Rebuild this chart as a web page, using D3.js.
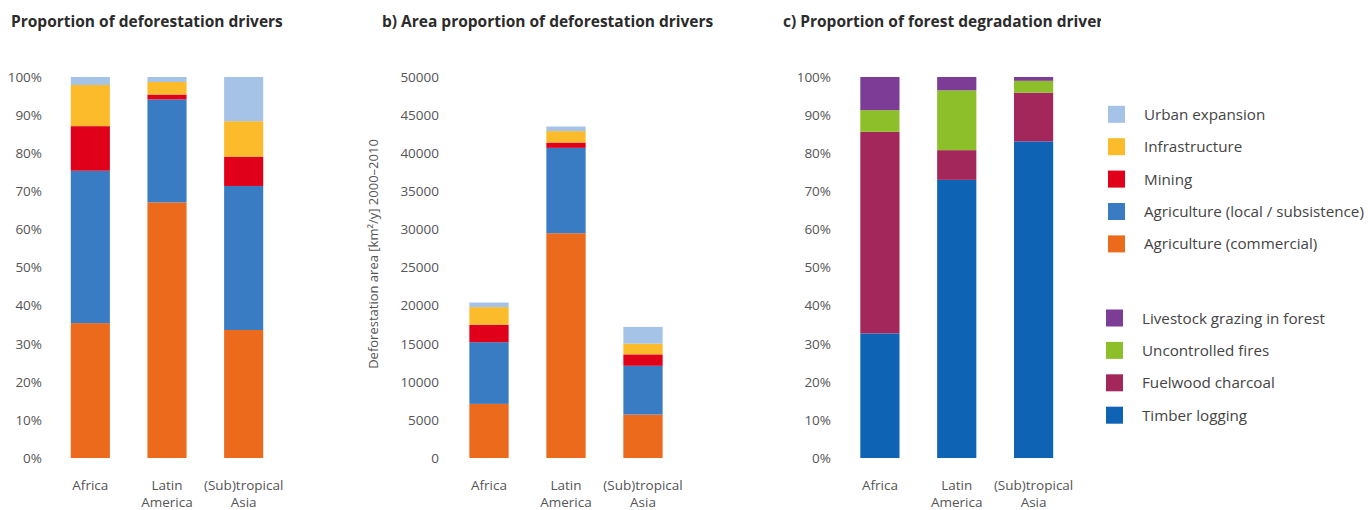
<!DOCTYPE html>
<html>
<head>
<meta charset="utf-8">
<script src="https://cdn.jsdelivr.net/npm/d3@7"></script>
<style>
  body { margin: 0; background: #fff; }
  svg { display: block; font-family: "Open Sans", sans-serif; }
</style>
</head>
<body>
<svg id="chart" width="1368" height="510"></svg>
<script>
// data
const regions = ["Africa", "Latin America", "(Sub)tropical Asia"]

const deforDrivers = ["Agriculture (commercial)", "Agriculture (local / subsistence)", "Mining", "Infrastructure", "Urban expansion"]
const deforColors = ["#ec6a1c", "#3a7cc4", "#e1001a", "#fbbb2b", "#a4c3e6"]

// a) proportion, % per region (commercial, local, mining, infra, urban)
const deforShareAfrica = [35.4, 40.0, 11.7, 10.8, 2.1]
const deforShareLatAm = [67.1, 27.0, 1.3, 3.3, 1.3]
const deforShareAsia = [33.6, 37.8, 7.7, 9.3, 11.6]

// b) area, km2/y
const deforAreaAfrica = [7100, 8100, 2300, 2300, 600]
const deforAreaLatAm = [29500, 11200, 700, 1500, 600]
const deforAreaAsia = [5700, 6400, 1500, 1400, 2200]

const degrDrivers = ["Timber logging", "Fuelwood charcoal", "Uncontrolled fires", "Livestock grazing in forest"]
const degrColors = ["#0f63b5", "#a4275c", "#8dbf2b", "#7d3d96"]

// c) proportion, % (timber, fuelwood, fires, livestock)
const degrShareAfrica = [32.7, 52.9, 5.7, 8.7]
const degrShareLatAm = [73.0, 7.8, 15.7, 3.5]
const degrShareAsia = [83.1, 12.8, 3.1, 1.0]

const pctTicks = [0, 10, 20, 30, 40, 50, 60, 70, 80, 90, 100]
const areaTicks = [0, 5000, 10000, 15000, 20000, 25000, 30000, 35000, 40000, 45000, 50000]

const svg = d3.select("#chart")

// clip for the cut-off title of panel c
svg.append("defs").append("clipPath").attr("id", "clipC")
  .append("rect").attr("x", 0).attr("y", 0).attr("width", 1101).attr("height", 60)

function toRows(keys, arrays) {
  return arrays.map((vals, i) => {
    const row = { region: regions[i] }
    keys.forEach((k, j) => row[k] = vals[j])
    return row
  })
}

function drawPanel(opt) {
  const y = d3.scaleLinear().domain(opt.domain).range([458, 77])
  const x = d3.scaleBand().domain(regions).range(opt.xRange)
    .paddingInner(0.49).paddingOuter(0.245)

  const color = d3.scaleOrdinal().domain(opt.keys).range(opt.colors)
  const series = d3.stack().keys(opt.keys)(opt.rows)

  const g = svg.append("g")

  g.selectAll("g.layer")
    .data(series)
    .join("g")
    .attr("class", "layer")
    .attr("fill", d => color(d.key))
    .selectAll("rect")
    .data(d => d)
    .join("rect")
    .attr("x", d => x(d.data.region))
    .attr("width", x.bandwidth())
    .attr("y", d => y(d[1]))
    .attr("height", d => y(d[0]) - y(d[1]))

  // y axis, labels only
  const ax = g.append("g")
    .attr("transform", `translate(${opt.axisX},0)`)
    .call(d3.axisLeft(y).tickValues(opt.ticks).tickSize(0).tickPadding(0).tickFormat(opt.fmt))
  ax.select(".domain").remove()
  ax.selectAll("text")
    .attr("fill", "#555")
    .style("font-size", "13.5px")
    .style("font-family", "'Open Sans', sans-serif")

  // category labels, two lines
  regions.forEach(r => {
    const words = r === "Africa" ? ["Africa"] : r === "Latin America" ? ["Latin", "America"] : ["(Sub)tropical", "Asia"]
    const t = g.append("text")
      .attr("x", x(r) + x.bandwidth() / 2)
      .attr("y", 490)
      .attr("text-anchor", "middle")
      .attr("fill", "#555")
      .style("font-size", "13.5px")
    words.forEach((w, i) => {
      t.append("tspan").attr("x", x(r) + x.bandwidth() / 2).attr("dy", i === 0 ? 0 : 17).text(w)
    })
  })

  // title
  svg.append("text")
    .attr("x", opt.titleX)
    .attr("y", 27)
    .attr("fill", "#2b2b2b")
    .attr("clip-path", opt.clip || null)
    .style("font-size", "15.5px")
    .style("font-weight", "bold")
    .text(opt.title)
}

drawPanel({
  title: "Proportion of deforestation drivers",
  titleX: 11,
  keys: deforDrivers,
  colors: deforColors,
  rows: toRows(deforDrivers, [deforShareAfrica, deforShareLatAm, deforShareAsia]),
  domain: [0, 100],
  ticks: pctTicks,
  fmt: d => d + "%",
  xRange: [52, 282],
  axisX: 42
})

drawPanel({
  title: "b) Area proportion of deforestation drivers",
  titleX: 382,
  keys: deforDrivers,
  colors: deforColors,
  rows: toRows(deforDrivers, [deforAreaAfrica, deforAreaLatAm, deforAreaAsia]),
  domain: [0, 50000],
  ticks: areaTicks,
  fmt: d => d,
  xRange: [450.5, 681.5],
  axisX: 439
})

drawPanel({
  title: "c) Proportion of forest degradation drivers",
  titleX: 783,
  clip: "url(#clipC)",
  keys: degrDrivers,
  colors: degrColors,
  rows: toRows(degrDrivers, [degrShareAfrica, degrShareLatAm, degrShareAsia]),
  domain: [0, 100],
  ticks: pctTicks,
  fmt: d => d + "%",
  xRange: [841.5, 1072],
  axisX: 831
})

// y axis title of panel b
svg.append("text")
  .attr("transform", "translate(378,254) rotate(-90)")
  .attr("text-anchor", "middle")
  .attr("fill", "#555")
  .style("font-size", "13px")
  .text("Deforestation area [km²/y] 2000–2010")

// legends
function legend(items, colors, x0, y0) {
  const lg = svg.append("g").attr("transform", `translate(${x0},${y0})`)
  const row = lg.selectAll("g").data(items).join("g")
    .attr("transform", (d, i) => `translate(0,${i * 32.4})`)
  row.append("rect").attr("x", 0).attr("y", -8.5).attr("width", 17).attr("height", 17)
    .attr("fill", (d, i) => colors[i])
  row.append("text").attr("x", 36).attr("y", 5.5).attr("fill", "#444")
    .style("font-size", "15.2px").text(d => d)
}

legend(deforDrivers.slice().reverse(), deforColors.slice().reverse(), 1108, 114.3)
legend(degrDrivers.slice().reverse(), degrColors.slice().reverse(), 1106, 318)
</script>
</body>
</html>
